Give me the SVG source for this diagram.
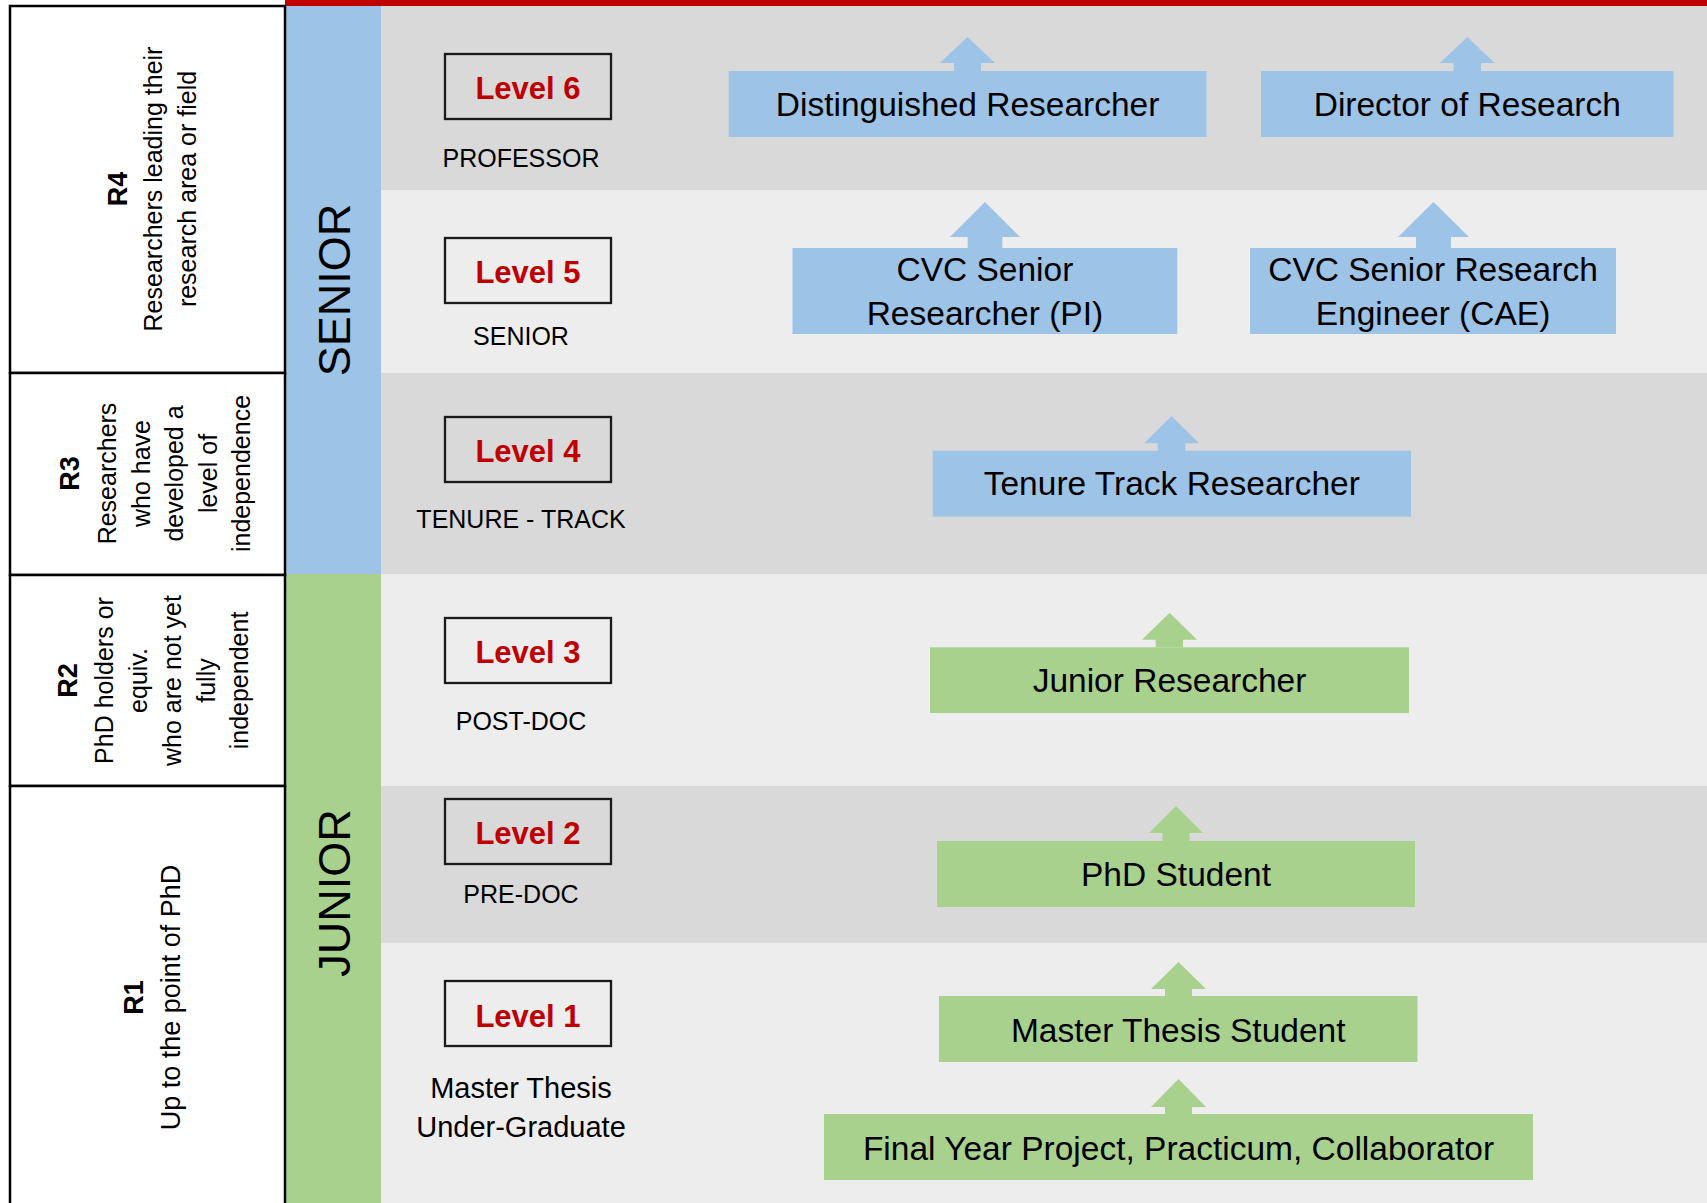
<svg xmlns="http://www.w3.org/2000/svg" width="1707" height="1203" viewBox="0 0 1707 1203">
<style>
text{font-family:"Liberation Sans",Arial,sans-serif;fill:#000}
.band-d{fill:#d9d9d9}
.band-l{fill:#ededed}
.cell{fill:#fff;stroke:#000;stroke-width:2.5}
.rl{font-weight:bold;font-size:27px}
.rd{font-size:25px}
.col{font-size:45px}
.lvbox{fill:none;stroke:#1a1a1a;stroke-width:2.3}
.lvtxt{font-weight:bold;font-size:31px;fill:#c00000;text-anchor:middle}
.sub{font-size:25px;text-anchor:middle}
.sub2{font-size:29px;text-anchor:middle}
.blue{fill:#9dc3e6}
.green{fill:#a9d18e}
.role{font-size:33.5px;text-anchor:middle}
</style>
<rect x="0" y="0" width="1707" height="1203" fill="#fff"/>
<g id="bands">
<rect class="band-d" x="381" y="6" width="1326" height="184"/>
<rect class="band-l" x="381" y="190" width="1326" height="183"/>
<rect class="band-d" x="381" y="373" width="1326" height="201"/>
<rect class="band-l" x="381" y="574" width="1326" height="212"/>
<rect class="band-d" x="381" y="786" width="1326" height="157"/>
<rect class="band-l" x="381" y="943" width="1326" height="260"/>
<rect x="285" y="0" width="1422" height="6" fill="#c00000"/>
</g>
<g id="columns">
<rect class="blue" x="286" y="6" width="95" height="568"/>
<rect class="green" x="286" y="574" width="95" height="629"/>
<text class="col" text-anchor="middle" transform="translate(350,290) rotate(-90)" x="0" y="0">SENIOR</text>
<text class="col" text-anchor="middle" transform="translate(350,893) rotate(-90)" x="0" y="0">JUNIOR</text>
</g>
<g id="table">
<rect class="cell" x="10" y="6" width="275" height="367"/>
<rect class="cell" x="10" y="373" width="275" height="202"/>
<rect class="cell" x="10" y="575" width="275" height="211"/>
<rect class="cell" x="10" y="786" width="275" height="430"/>
</g>
<g id="r4" transform="translate(0,189) rotate(-90)" text-anchor="middle">
<text class="rl" x="0" y="127">R4</text>
<text class="rd" x="0" y="161.5">Researchers leading their</text>
<text class="rd" x="0" y="195.5">research area or field</text>
</g>
<g id="r3" transform="translate(0,473.5) rotate(-90)" text-anchor="middle">
<text class="rl" x="0" y="79">R3</text>
<text class="rd" x="0" y="116">Researchers</text>
<text class="rd" x="0" y="149.5">who have</text>
<text class="rd" x="0" y="183">developed a</text>
<text class="rd" x="0" y="216.5">level of</text>
<text class="rd" x="0" y="250">independence</text>
</g>
<g id="r2" transform="translate(0,680.5) rotate(-90)" text-anchor="middle">
<text class="rl" x="0" y="77">R2</text>
<text class="rd" x="0" y="113">PhD holders or</text>
<text class="rd" x="0" y="147">equiv.</text>
<text class="rd" x="0" y="181">who are not yet</text>
<text class="rd" x="0" y="214.5">fully</text>
<text class="rd" x="0" y="248">independent</text>
</g>
<g id="r1" transform="translate(0,997.5) rotate(-90)" text-anchor="middle">
<text class="rl" x="0" y="143">R1</text>
<text class="rd" x="0" y="180" style="font-size:27px">Up to the point of PhD</text>
</g>
<g id="level6">
<rect class="lvbox" x="445" y="54" width="166" height="65"/>
<text class="lvtxt" x="528" y="99">Level 6</text>
<text class="sub" x="521" y="167">PROFESSOR</text>
</g>
<g id="level5">
<rect class="lvbox" x="445" y="238" width="166" height="65"/>
<text class="lvtxt" x="528" y="283">Level 5</text>
<text class="sub" x="521" y="345">SENIOR</text>
</g>
<g id="level4">
<rect class="lvbox" x="445" y="417" width="166" height="65"/>
<text class="lvtxt" x="528" y="462">Level 4</text>
<text class="sub" x="521" y="528">TENURE - TRACK</text>
</g>
<g id="level3">
<rect class="lvbox" x="445" y="618" width="166" height="65"/>
<text class="lvtxt" x="528" y="663">Level 3</text>
<text class="sub" x="521" y="730">POST-DOC</text>
</g>
<g id="level2">
<rect class="lvbox" x="445" y="799" width="166" height="65"/>
<text class="lvtxt" x="528" y="844">Level 2</text>
<text class="sub" x="521" y="903">PRE-DOC</text>
</g>
<g id="level1">
<rect class="lvbox" x="445" y="981" width="166" height="65"/>
<text class="lvtxt" x="528" y="1027">Level 1</text>
<text class="sub2" x="521" y="1098">Master Thesis</text>
<text class="sub2" x="521" y="1137">Under-Graduate</text>
</g>
<g id="connectors">
<polygon class="blue" points="954,71 954,63 940,63 967.5,37 995,63 981,63 981,71"/>
<polygon class="blue" points="1453.6,71 1453.6,63 1440,63 1467.3,37 1494.6,63 1481,63 1481,71"/>
<polygon class="blue" points="967.7,248 967.7,237 950,237 985,202 1020,237 1002.3,237 1002.3,248"/>
<polygon class="blue" points="1416,248 1416,237 1398,237 1433.5,202 1469,237 1451,237 1451,248"/>
<polygon class="blue" points="1157.7,451 1157.7,443.3 1144.3,443.3 1171.5,416 1199,443.3 1185.3,443.3 1185.3,451"/>
<polygon class="green" points="1155.7,647.3 1155.7,639.7 1142,639.7 1169.6,612.7 1197,639.7 1183,639.7 1183,647.3"/>
<polygon class="green" points="1162.5,841 1162.5,833 1149,833 1176,806 1203,833 1189.5,833 1189.5,841"/>
<polygon class="green" points="1165,996 1165,989 1151,989 1178.5,962 1206,989 1192,989 1192,996"/>
<polygon class="green" points="1165,1114 1165,1107 1151,1107 1178.5,1079 1206,1107 1192,1107 1192,1114"/>
</g>
<g id="distinguished">
<rect class="blue" x="728.7" y="71" width="477.8" height="66"/>
<text class="role" x="967.6" y="116">Distinguished Researcher</text>
</g>
<g id="director">
<rect class="blue" x="1261" y="71" width="412.6" height="66"/>
<text class="role" x="1467.3" y="116">Director of Research</text>
</g>
<g id="cvc-pi">
<rect class="blue" x="792.5" y="248" width="384.8" height="86"/>
<text class="role" x="984.9" y="281">CVC Senior</text>
<text class="role" x="984.9" y="325">Researcher (PI)</text>
</g>
<g id="cvc-cae">
<rect class="blue" x="1250" y="248" width="366" height="86"/>
<text class="role" x="1433" y="281">CVC Senior Research</text>
<text class="role" x="1433" y="325">Engineer (CAE)</text>
</g>
<g id="tenure">
<rect class="blue" x="932.7" y="450.7" width="478.3" height="66"/>
<text class="role" x="1171.8" y="495">Tenure Track Researcher</text>
</g>
<g id="junior">
<rect class="green" x="930" y="647.3" width="479" height="65.7"/>
<text class="role" x="1169.5" y="691.5">Junior Researcher</text>
</g>
<g id="phd">
<rect class="green" x="937" y="841" width="478" height="66"/>
<text class="role" x="1176" y="886">PhD Student</text>
</g>
<g id="master">
<rect class="green" x="939" y="996" width="478.5" height="66"/>
<text class="role" x="1178.2" y="1042">Master Thesis Student</text>
</g>
<g id="final">
<rect class="green" x="824" y="1114" width="709" height="66"/>
<text class="role" x="1178.5" y="1160">Final Year Project, Practicum, Collaborator</text>
</g>
</svg>
